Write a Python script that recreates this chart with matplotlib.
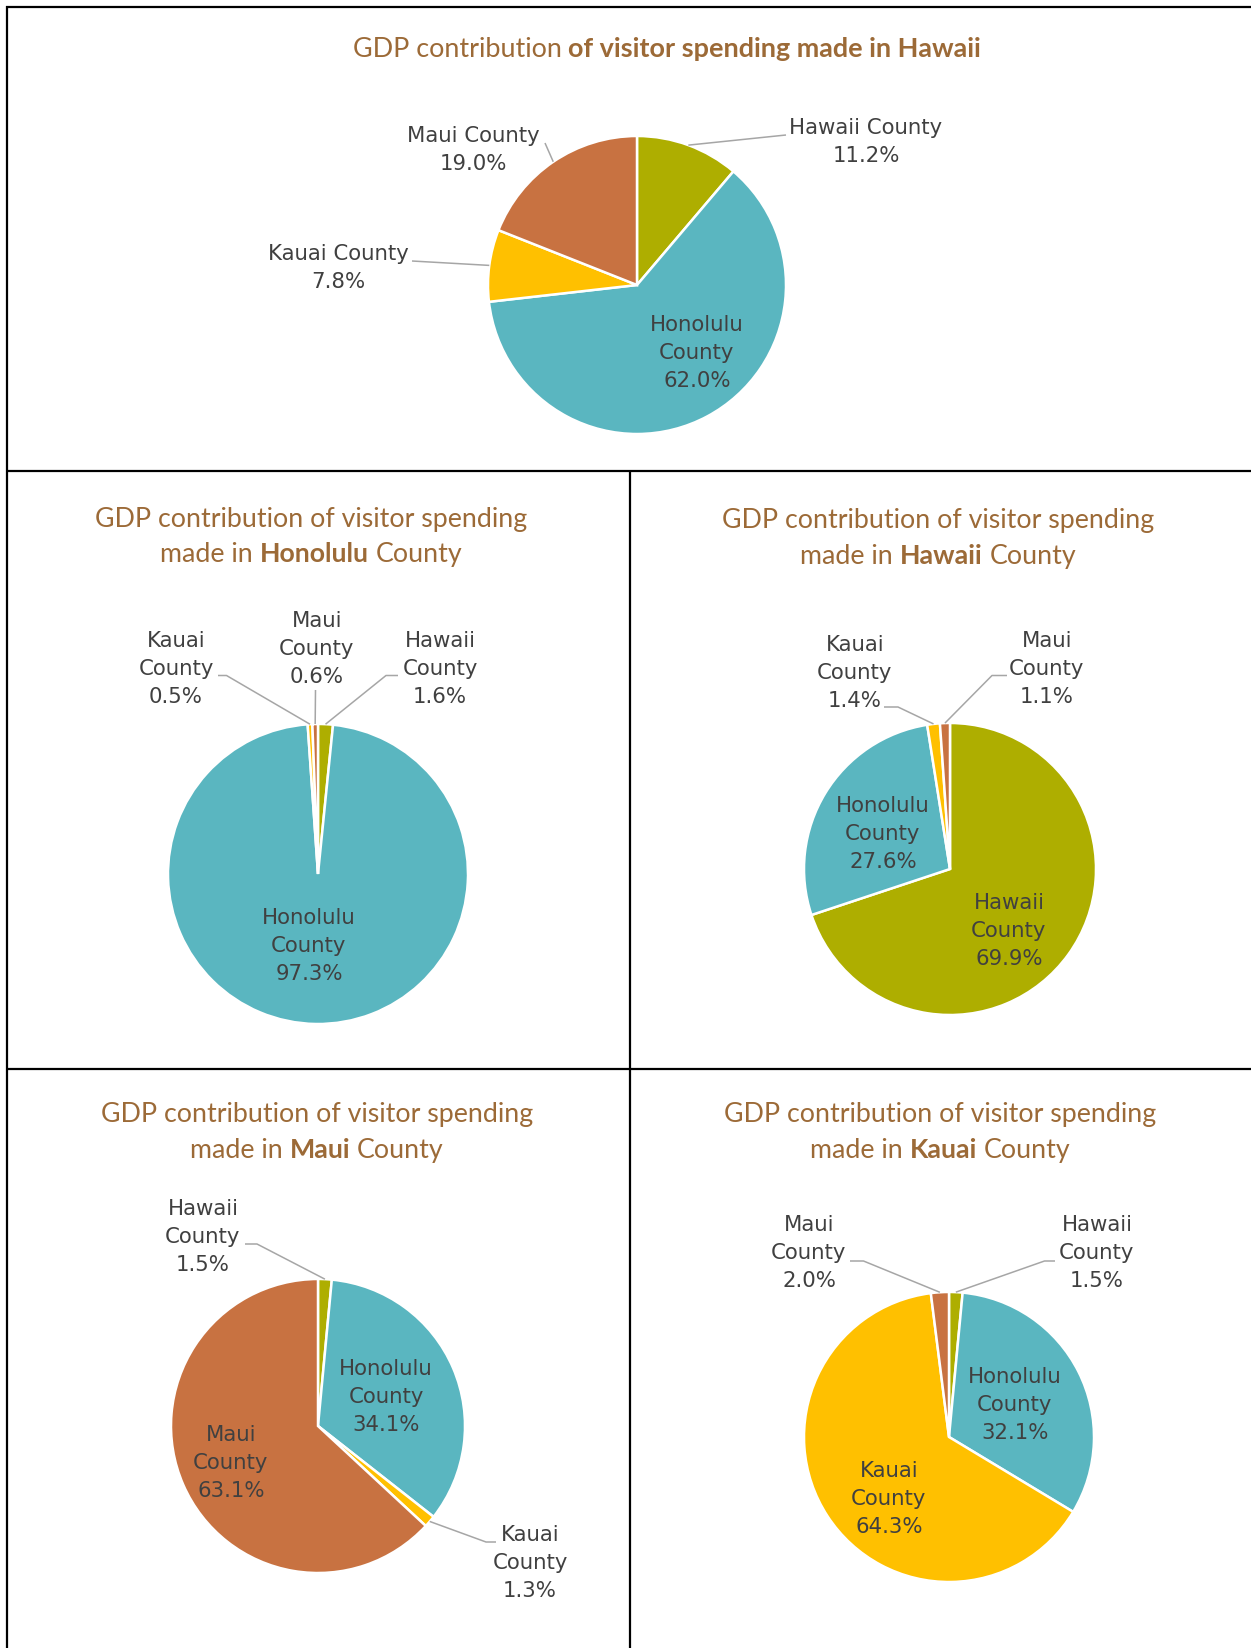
import matplotlib
matplotlib.use("Agg")
import matplotlib.pyplot as plt
import numpy as np

W, H = 1251, 1648

# ---------------- data ----------------
counties = ["Hawaii", "Honolulu", "Kauai", "Maui"]
colors = ["#AEAE00", "#5AB6C0", "#FFC000", "#C87241"]

share_state = [11.2, 62.0, 7.8, 19.0]
share_honolulu = [1.6, 97.3, 0.5, 0.6]
share_hawaii = [69.9, 27.6, 1.4, 1.1]
share_maui = [1.5, 34.1, 1.3, 63.1]
share_kauai = [1.5, 32.1, 64.3, 2.0]

TITLE_COLOR = "#9C6A37"
LABEL_COLOR = "#404040"
LEADER_COLOR = "#A6A6A6"

fig = plt.figure(figsize=(W / 100, H / 100), dpi=100)
fig.patch.set_facecolor("white")
ax = fig.add_axes([0, 0, 1, 1])
renderer = fig.canvas.get_renderer()


def Y(y):
    return H - y


def text_width(s, bold, size):
    t = ax.text(0, 0, s, fontsize=size, fontweight="bold" if bold else "normal",
                family="Lato")
    w = t.get_window_extent(renderer).width
    t.remove()
    return w


def line_width(tokens, size):
    sp = text_width("a a", False, size) - text_width("aa", False, size)
    return sum(text_width(s, b, size) for s, b in tokens) + sp * (len(tokens) - 1), sp


def draw_title_line(tokens, cx, baseline, size):
    total, sp = line_width(tokens, size)
    x = cx - total / 2
    for s, b in tokens:
        ax.text(x, Y(baseline), s, fontsize=size, family="Lato",
                fontweight="bold" if b else "normal", color=TITLE_COLOR,
                ha="left", va="baseline")
        x += text_width(s, b, size) + sp


def fit_size(tokens, target):
    w, _ = line_width(tokens, 20)
    return 20 * target / w


panels = [
    dict(values=share_state, center=(637, 285), r=149, two_line={0, 2, 3},
         title=[([("GDP contribution", False),
                  ("of visitor spending made in Hawaii", True)], 57)],
         title_cx=667, title_w=632,
         labels={0: (866, 142, [(786, 135)]),
                 1: (697, 353, None),
                 2: (338, 268, [(412, 261)]),
                 3: (473, 150, [(545, 143)])}),
    dict(values=share_honolulu, center=(318, 874), r=150, two_line=set(),
         title=[([("GDP contribution of visitor spending", False)], 527),
                ([("made in", False), ("Honolulu", True), ("County", False)], 562)],
         title_cx=311, title_w=432,
         labels={0: (440, 669, [(386, 675.5), (398, 675.5)]),
                 1: (309, 946, None),
                 2: (176, 669, [(226.5, 675.5), (218, 675.5)]),
                 3: (317, 649, [(315.5, 690)])}),
    dict(values=share_hawaii, center=(950, 869), r=146, two_line=set(),
         title=[([("GDP contribution of visitor spending", False)], 528),
                ([("made in", False), ("Hawaii", True), ("County", False)], 564)],
         title_cx=938, title_w=432,
         labels={0: (1009, 931, None),
                 1: (883, 834, None),
                 2: (855, 673, [(898, 707), (884, 707)]),
                 3: (1047, 669, [(992, 675.5), (1007, 675.5)])}),
    dict(values=share_maui, center=(318, 1426), r=147, two_line=set(),
         title=[([("GDP contribution of visitor spending", False)], 1122),
                ([("made in", False), ("Maui", True), ("County", False)], 1158)],
         title_cx=317, title_w=432,
         labels={0: (203, 1237, [(257, 1244), (245, 1244)]),
                 1: (386, 1397, None),
                 2: (530, 1563, [(486, 1542), (496, 1542)]),
                 3: (231, 1463, None)}),
    dict(values=share_kauai, center=(949, 1437), r=145, two_line=set(),
         title=[([("GDP contribution of visitor spending", False)], 1122),
                ([("made in", False), ("Kauai", True), ("County", False)], 1158)],
         title_cx=940, title_w=432,
         labels={0: (1097, 1253, [(1044.5, 1261), (1055, 1261)]),
                 1: (1015, 1405, None),
                 2: (889, 1499, None),
                 3: (809, 1253, [(863.5, 1261), (850, 1261)])}),
]

for p in panels:
    cx, cy = p["center"]
    r = p["r"]
    vals = np.array(p["values"], dtype=float)
    ax.pie(vals, colors=colors, startangle=90, counterclock=False,
           center=(cx, Y(cy)), radius=r,
           wedgeprops=dict(edgecolor="white", linewidth=1.8))

    # titles
    size = fit_size(p["title"][0][0], p["title_w"])
    for tokens, base in p["title"]:
        draw_title_line(tokens, p["title_cx"], base, size)

    # data labels and leader lines
    frac = vals / vals.sum()
    cum = np.concatenate([[0], np.cumsum(frac)])
    for i, (lx, ly, path) in p["labels"].items():
        if i in p["two_line"]:
            txt = f"{counties[i]} County\n{vals[i]:.1f}%"
        else:
            txt = f"{counties[i]}\nCounty\n{vals[i]:.1f}%"
        ax.text(lx, Y(ly), txt, fontsize=15.3, family="DejaVu Sans",
                color=LABEL_COLOR, ha="center", va="center",
                multialignment="center", linespacing=1.52)
        if path is not None:
            mid = (cum[i] + cum[i + 1]) / 2
            ang = np.deg2rad(90 - mid * 360)
            sx = cx + r * np.cos(ang)
            sy = cy - r * np.sin(ang)
            xs = [sx] + [q[0] for q in path]
            ys = [Y(sy)] + [Y(q[1]) for q in path]
            ax.plot(xs, ys, color=LEADER_COLOR, lw=1.1, solid_capstyle="butt")

# panel borders
border = dict(color="black", lw=1.6, solid_capstyle="butt", clip_on=False)
ax.plot([6, W], [Y(7), Y(7)], **border)
ax.plot([7, 7], [Y(6), 0], **border)
ax.plot([7, W], [Y(471), Y(471)], **border)
ax.plot([7, W], [Y(1069), Y(1069)], **border)
ax.plot([630, 630], [Y(471), 0], **border)

ax.set_xlim(0, W)
ax.set_ylim(0, H)
ax.set_aspect("auto")
ax.axis("off")

fig.savefig("out.png", dpi=100, facecolor="white")
